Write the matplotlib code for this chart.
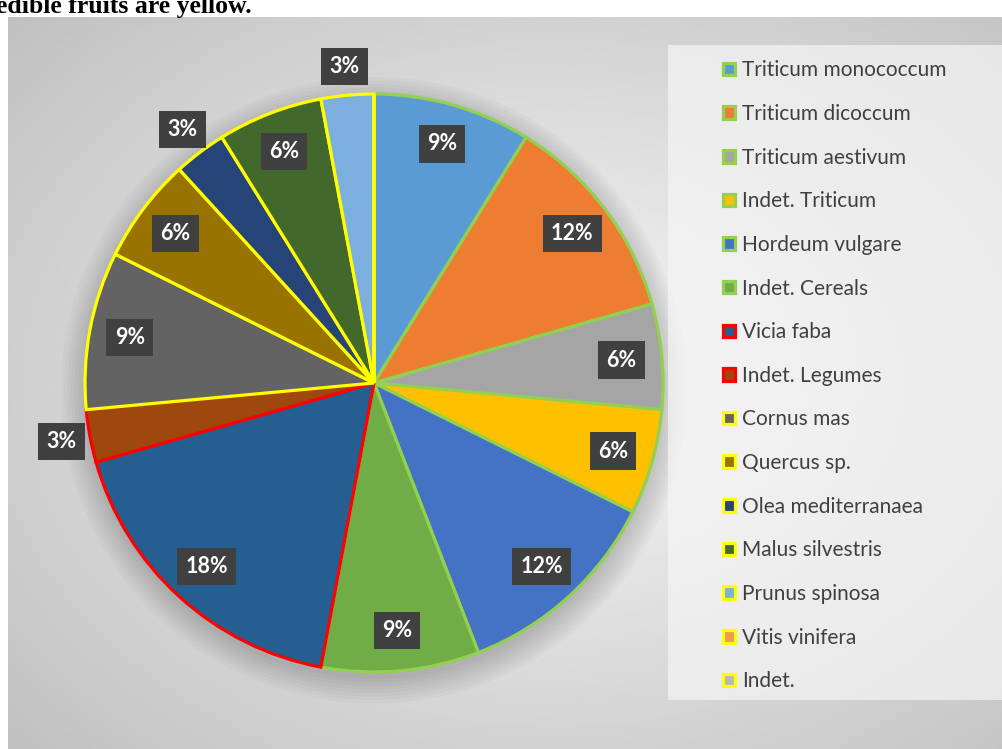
import numpy as np
import matplotlib.pyplot as plt
from matplotlib.patches import Rectangle, Circle

# data (counts, shown as % of 34)
taxa = ['Triticum monococcum', 'Triticum dicoccum', 'Triticum aestivum', 'Indet. Triticum',
        'Hordeum vulgare', 'Indet. Cereals', 'Vicia faba', 'Indet. Legumes', 'Cornus mas',
        'Quercus sp.', 'Olea mediterranaea', 'Malus silvestris', 'Prunus spinosa',
        'Vitis vinifera', 'Indet.']
counts = [3, 4, 2, 2, 4, 3, 6, 1, 3, 2, 1, 2, 1, 0, 0]
groups = ['cereal'] * 6 + ['legume'] * 2 + ['fruit'] * 7

fills = ['#5B9BD5', '#ED7D31', '#A5A5A5', '#FFC000', '#4472C4', '#70AD47', '#255E91',
         '#9E480E', '#636363', '#997300', '#264478', '#43682B', '#7CAFDD', '#F1975A', '#B7B7B7']
edge_for = {'cereal': '#92D050', 'legume': '#FF0000', 'fruit': '#FFFF00'}

plt.rcParams['font.family'] = ['Lato', 'DejaVu Sans']

W, H = 1003, 749
fig = plt.figure(figsize=(W / 100, H / 100), dpi=100)
fig.patch.set_facecolor('white')

# grey radial background of the chart area
bg = fig.add_axes([8 / W, 0, 1 - 8 / W, (H - 17) / H])
yy, xx = np.mgrid[0:1:300j, 0:1:400j]
r = np.sqrt(((xx - 0.55) / 0.75) ** 2 + ((yy - 0.5) / 0.75) ** 2)
bg.imshow(0.97 - 0.22 * np.clip(r, 0, 1), cmap='gray', vmin=0, vmax=1,
          extent=[0, 1, 0, 1], aspect='auto', origin='lower')
bg.set_axis_off()

# lighter legend panel
fig.patches.append(Rectangle((668 / W, 1 - 700 / H), 1 - 668 / W, (700 - 45) / H,
                             transform=fig.transFigure, facecolor='#f5f5f5',
                             alpha=0.7, edgecolor='none', zorder=0))

fig.text(-0.004, 1 - 13 / H, 'edible fruits are yellow.', family='Liberation Serif',
         fontweight='bold', fontsize=18.5, va='baseline', ha='left')

# pie
R = 289
ax = fig.add_axes([(374 - R) / W, (H - 383 - R) / H, 2 * R / W, 2 * R / H])
ax.set_facecolor('none')

# soft shadow under the pie
for k in range(8):
    ax.add_patch(Circle((0, -0.025), 1.0 + 0.012 * k, facecolor='black',
                        alpha=0.025, edgecolor='none', zorder=0, clip_on=False))

def fmt(p):
    return '' if p < 0.5 else '%.0f%%' % p

wedges, texts, autotexts = ax.pie(
    counts, colors=fills, startangle=90, counterclock=False, autopct=fmt,
    pctdistance=0.86, radius=1,
    wedgeprops=dict(linewidth=2.3, zorder=2),
    textprops=dict(color='white', fontsize=15.5, fontweight='bold'))

for w, g in zip(wedges, groups):
    w.set_edgecolor(edge_for[g])

for t, c, w in zip(autotexts, counts, wedges):
    if c == 1:
        ang = np.deg2rad((w.theta1 + w.theta2) / 2)
        t.set_position((1.1 * np.cos(ang), 1.1 * np.sin(ang)))
    t.set_bbox(dict(boxstyle='square,pad=0.38', facecolor='#404040', edgecolor='none'))
    t.set_zorder(5)

ax.set_xlim(-1, 1)
ax.set_ylim(-1, 1)
ax.set_aspect('auto')

leg = fig.legend(wedges, taxa, loc='upper left', bbox_to_anchor=(715 / W, 1 - 52 / H),
                 frameon=False, fontsize=15, labelcolor='#404040',
                 handlelength=0.55, handleheight=0.55, handletextpad=0.35,
                 labelspacing=1.135, borderaxespad=0)

fig.savefig('out.png', dpi=100)
